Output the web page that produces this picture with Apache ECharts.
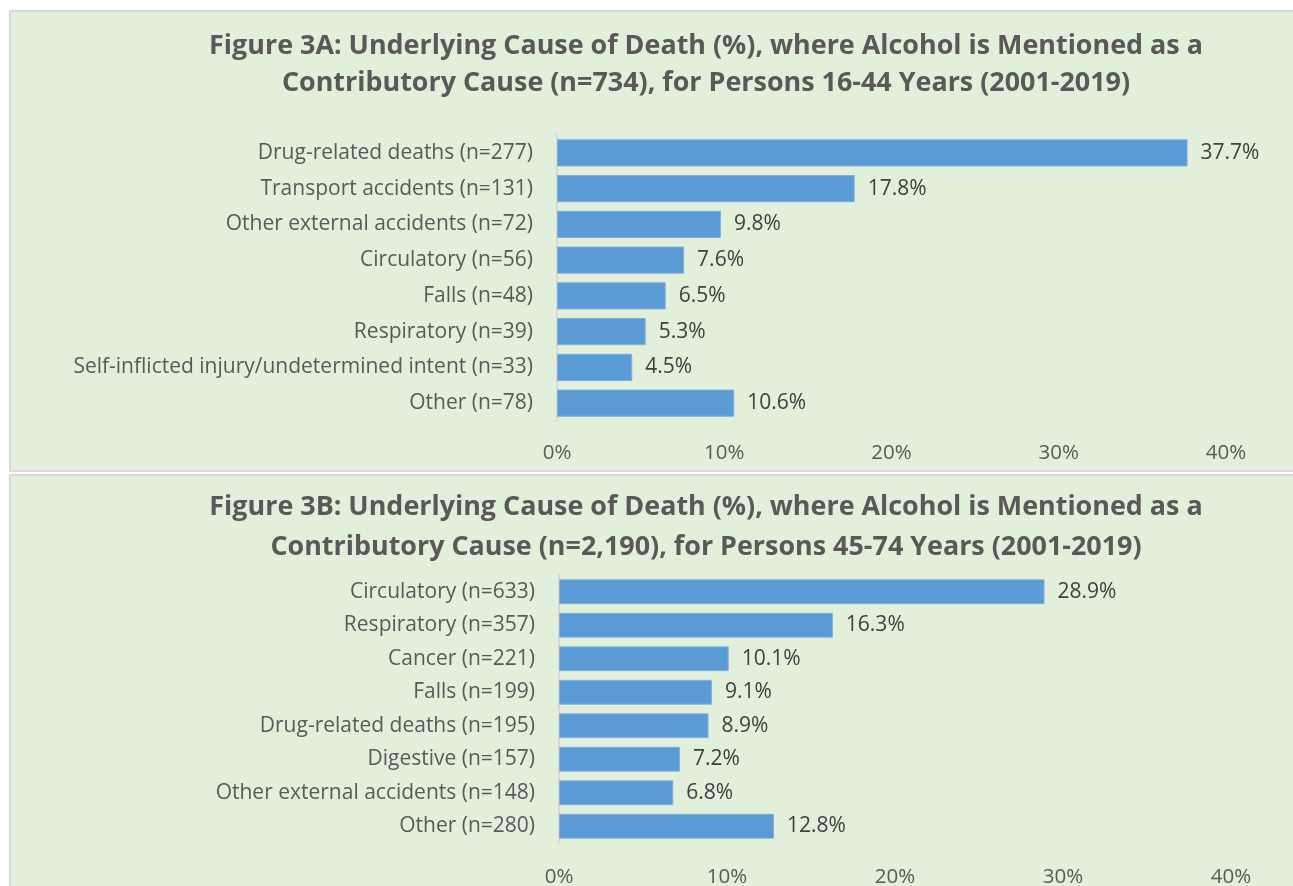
<!DOCTYPE html>
<html><head><meta charset="utf-8">
<script src="https://cdn.jsdelivr.net/npm/echarts@6/dist/echarts.min.js"></script>
<style>html,body{margin:0;padding:0;background:#fff}#c{width:1293px;height:886px}</style>
</head><body><div id="c"></div>
<script>
const titleA = ['Figure 3A: Underlying Cause of Death (%), where Alcohol is Mentioned as a', 'Contributory Cause (n=734), for Persons 16-44 Years (2001-2019)'];
const titleB = ['Figure 3B: Underlying Cause of Death (%), where Alcohol is Mentioned as a', 'Contributory Cause (n=2,190), for Persons 45-74 Years (2001-2019)'];
const catsA = ['Drug-related deaths (n=277)', 'Transport accidents (n=131)', 'Other external accidents (n=72)', 'Circulatory (n=56)', 'Falls (n=48)', 'Respiratory (n=39)', 'Self-inflicted injury/undetermined intent (n=33)', 'Other (n=78)'];
const valsA = [37.7, 17.8, 9.8, 7.6, 6.5, 5.3, 4.5, 10.6];
const catsB = ['Circulatory (n=633)', 'Respiratory (n=357)', 'Cancer (n=221)', 'Falls (n=199)', 'Drug-related deaths (n=195)', 'Digestive (n=157)', 'Other external accidents (n=148)', 'Other (n=280)'];
const valsB = [28.9, 16.3, 10.1, 9.1, 8.9, 7.2, 6.8, 12.8];
const xTicks = [0, 10, 20, 30, 40];

const FONT = '"Open Sans", Lato, sans-serif';
const chart = echarts.init(document.getElementById('c'));
function xAxis(idx, margin) {
  return {
    type: 'value', gridIndex: idx, min: xTicks[0], max: xTicks[xTicks.length - 1], interval: 10,
    axisLine: {show: false}, axisTick: {show: false}, splitLine: {show: false},
    axisLabel: {formatter: v => v + '%', color: '#595959', fontSize: 20.5, fontFamily: FONT, margin: margin}
  };
}
function yAxis(idx, cats) {
  return {
    type: 'category', gridIndex: idx, data: cats, inverse: true,
    axisLine: {show: true, lineStyle: {color: '#d9d9d9', width: 2}}, axisTick: {show: false},
    axisLabel: {color: '#595959', fontSize: 21, fontFamily: FONT, margin: 24, padding: [3, 0, 0, 0]}
  };
}
function series(idx, vals, gap) {
  return {
    type: 'bar', xAxisIndex: idx, yAxisIndex: idx, data: vals, barCategoryGap: gap,
    itemStyle: {color: '#5b9bd5', borderColor: '#7fb0de', borderWidth: 1},
    label: {show: true, position: 'right', distance: 13, formatter: p => p.value.toFixed(1) + '%', color: '#404040', fontSize: 21, fontFamily: FONT, padding: [3, 0, 0, 0]},
    silent: true, animation: false
  };
}
chart.setOption({
  animation: false,
  graphic: [
    {type: 'rect', shape: {x: 10, y: 11, width: 1300, height: 460}, style: {fill: '#e2efda', stroke: '#d9d9d9', lineWidth: 2}, z: -10},
    {type: 'rect', shape: {x: 10, y: 475, width: 1300, height: 430}, style: {fill: '#e2efda', stroke: '#d9d9d9', lineWidth: 2}, z: -10}
  ],
  title: [
    {text: titleA.join('\n'), left: 701, top: 23, textAlign: 'center', textStyle: {fontFamily: FONT, fontWeight: 'bold', fontSize: 26.9, color: '#595959', lineHeight: 37}},
    {text: titleB.join('\n'), left: 701, top: 482, textAlign: 'center', textStyle: {fontFamily: FONT, fontWeight: 'bold', fontSize: 26.9, color: '#595959', lineHeight: 40}}
  ],
  grid: [
    {left: 557, right: 67, top: 135, height: 286, outerBoundsMode: 'none'},
    {left: 559, right: 62, top: 575, height: 268, outerBoundsMode: 'none'}
  ],
  xAxis: [xAxis(0, 22), xAxis(1, 24)],
  yAxis: [yAxis(0, catsA), yAxis(1, catsB)],
  series: [series(0, valsA, '24%'), series(1, valsB, '26%')]
});
</script></body></html>
